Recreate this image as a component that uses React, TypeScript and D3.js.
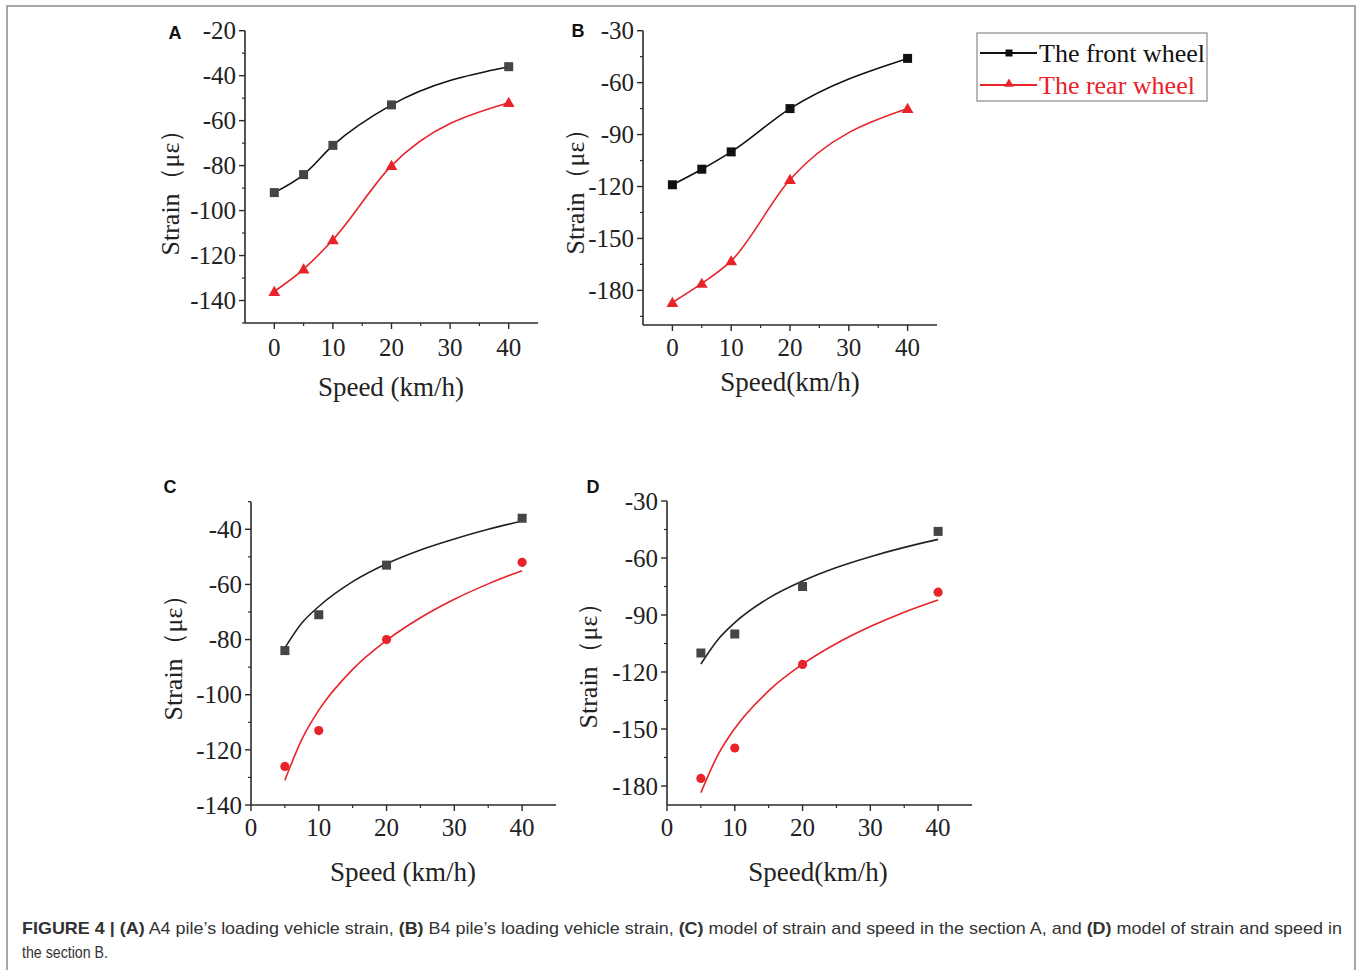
import * as d3 from "d3";

// ---- data ----
const speedAB = [0, 5, 10, 20, 40];
const frontA = [-92, -84, -71, -53, -36];
const rearA = [-136, -126, -113, -80, -52];
const frontB = [-119, -110, -100, -75, -46];
const rearB = [-187, -176, -163, -116, -75];

const speedCD = [5, 10, 20, 40];
const frontC = [-84, -71, -53, -36];
const rearC = [-126, -113, -80, -52];
const frontD = [-110, -100, -75, -46];
const rearD = [-176, -160, -116, -78];

// fitted curves
const fitX = [5, 7.5, 10, 15, 20, 25, 30, 35, 40];
const fitFrontC = [-83, -74, -68, -59, -52.5, -47.5, -43.5, -40, -37];
const fitRearC = [-131, -116.2, -105.6, -90.8, -80.3, -72.1, -65.4, -59.8, -55];
const fitFrontD = [-115.8, -103, -94, -81.1, -72.1, -65, -59.3, -54.4, -50.2];
const fitRearD = [-183.5, -163.7, -149.7, -129.9, -115.9, -105, -96.1, -88.5, -82.1];

const xTicks = [0, 10, 20, 30, 40];
const xMinor = [5, 15, 25, 35];
const yTicksA = [-140, -120, -100, -80, -60, -40, -20];
const yMinorA = [-150, -130, -110, -90, -70, -50, -30];
const yTicksB = [-180, -150, -120, -90, -60, -30];
const yMinorB = [-195, -165, -135, -105, -75, -45];
const yTicksC = [-140, -120, -100, -80, -60, -40];
const yMinorC = [-130, -110, -90, -70, -50, -30];
const yTicksD = [-180, -150, -120, -90, -60, -30];
const yMinorD = [-165, -135, -105, -75, -45];

const legendLabels = ["The front wheel", "The rear wheel"];
const BLACK = "#111";
const RED = "#e8232a";
const SERIF = "'Liberation Serif', 'Times New Roman', serif";
const SANS = "'Liberation Sans', Arial, sans-serif";

type Pt = [number, number];
const zip = (xs: number[], ys: number[]): Pt[] => xs.map((x, i) => [x, ys[i]]);

function Panel(p: any) {
  const x = d3.scaleLinear().domain(p.xDomain).range(p.xRange);
  const y = d3.scaleLinear().domain(p.yDomain).range(p.yRange);
  const x0 = p.xRange[0];
  const y0 = p.yRange[0];
  const line = d3
    .line<Pt>()
    .x((d) => x(d[0]))
    .y((d) => y(d[1]))
    .curve(d3.curveMonotoneX);
  const tri = d3.symbol().type(d3.symbolTriangle).size(60)();
  const axisColor = "#2a2a2a";
  return (
    <g>
      {/* lines */}
      {p.lines.map((l: any, i: number) => (
        <path key={"l" + i} d={line(l.pts) || ""} fill="none" stroke={l.color} strokeWidth={1.6} />
      ))}
      {/* markers */}
      {p.marks.map((m: any, i: number) =>
        m.pts.map((d: Pt, j: number) => {
          const cx = x(d[0]);
          const cy = y(d[1]);
          if (m.shape === "square")
            return <rect key={i + "-" + j} x={cx - 4.5} y={cy - 4.5} width={9} height={9} fill={m.color} />;
          if (m.shape === "triangle")
            return <path key={i + "-" + j} d={tri || ""} transform={`translate(${cx},${cy + 1})`} fill={m.color} />;
          return <circle key={i + "-" + j} cx={cx} cy={cy} r={4.6} fill={m.color} />;
        })
      )}
      {/* axes */}
      <line x1={x0} x2={x0} y1={p.yRange[1]} y2={y0} stroke={axisColor} strokeWidth={1.6} />
      <line x1={x0} x2={p.xRange[1]} y1={y0} y2={y0} stroke={axisColor} strokeWidth={1.6} />
      {p.yTicks.map((t: number) => (
        <g key={"yt" + t}>
          <line x1={x0 - 6} x2={x0} y1={y(t)} y2={y(t)} stroke={axisColor} strokeWidth={1.4} />
          <text x={x0 - 9} y={y(t)} dy="0.35em" textAnchor="end" fontFamily={SERIF} fontSize={25} fill="#222">
            {t}
          </text>
        </g>
      ))}
      {p.yMinor.map((t: number) => (
        <line key={"ym" + t} x1={x0 - 3} x2={x0} y1={y(t)} y2={y(t)} stroke={axisColor} strokeWidth={1.2} />
      ))}
      {xTicks.map((t) => (
        <g key={"xt" + t}>
          <line x1={x(t)} x2={x(t)} y1={y0} y2={y0 + 6} stroke={axisColor} strokeWidth={1.4} />
          <text x={x(t)} y={y0 + p.xLabelOffset} textAnchor="middle" fontFamily={SERIF} fontSize={25} fill="#222">
            {t}
          </text>
        </g>
      ))}
      {xMinor.map((t) => (
        <line key={"xm" + t} x1={x(t)} x2={x(t)} y1={y0} y2={y0 + 3} stroke={axisColor} strokeWidth={1.2} />
      ))}
      {/* titles */}
      <text x={p.xTitle[0]} y={p.xTitle[1]} textAnchor="middle" fontFamily={SERIF} fontSize={27} fill="#222">
        {p.xTitleText}
      </text>
      <text
        transform={`translate(${p.yTitle[0]},${p.yTitle[1]}) rotate(-90)`}
        dy="0.35em"
        textAnchor="middle"
        fontFamily={SERIF}
        fontSize={26}
        fill="#222"
      >
        Strain（με）
      </text>
      <text x={p.label[0]} y={p.label[1]} dy="0.35em" textAnchor="middle" fontFamily={SANS} fontWeight="bold" fontSize={18} fill="#111">
        {p.labelText}
      </text>
    </g>
  );
}

export default function App() {
  const tri = d3.symbol().type(d3.symbolTriangle).size(40)();
  return (
    <svg
      width={1360}
      height={970}
      style={{ position: "absolute", left: 0, top: 0, background: "#fff" }}
    >
      <rect x={7} y={6} width={1348} height={980} fill="none" stroke="#8a8a8a" strokeWidth={1.5} />

      <Panel
        labelText="A"
        label={[175, 33]}
        xDomain={[-5, 45]}
        xRange={[245, 538]}
        yDomain={[-150, -20]}
        yRange={[323, 30.7]}
        yTicks={yTicksA}
        yMinor={yMinorA}
        xLabelOffset={33}
        xTitle={[391, 396]}
        xTitleText="Speed (km/h)"
        yTitle={[170, 186]}
        lines={[
          { pts: zip(speedAB, frontA), color: BLACK },
          { pts: zip(speedAB, rearA), color: RED },
        ]}
        marks={[
          { pts: zip(speedAB, frontA), color: "#454545", shape: "square" },
          { pts: zip(speedAB, rearA), color: RED, shape: "triangle" },
        ]}
      />
      <Panel
        labelText="B"
        label={[578, 31]}
        xDomain={[-5, 45]}
        xRange={[643, 937]}
        yDomain={[-200, -30]}
        yRange={[325, 30.7]}
        yTicks={yTicksB}
        yMinor={yMinorB}
        xLabelOffset={31}
        xTitle={[790, 391]}
        xTitleText="Speed(km/h)"
        yTitle={[575, 185]}
        lines={[
          { pts: zip(speedAB, frontB), color: BLACK },
          { pts: zip(speedAB, rearB), color: RED },
        ]}
        marks={[
          { pts: zip(speedAB, frontB), color: "#111", shape: "square" },
          { pts: zip(speedAB, rearB), color: RED, shape: "triangle" },
        ]}
      />
      <Panel
        labelText="C"
        label={[170, 487]}
        xDomain={[0, 45]}
        xRange={[251, 556]}
        yDomain={[-140, -30]}
        yRange={[805, 501.7]}
        yTicks={yTicksC}
        yMinor={yMinorC}
        xLabelOffset={31}
        xTitle={[403, 881]}
        xTitleText="Speed (km/h)"
        yTitle={[173, 651]}
        lines={[
          { pts: zip(fitX, fitFrontC), color: "#222" },
          { pts: zip(fitX, fitRearC), color: RED },
        ]}
        marks={[
          { pts: zip(speedCD, frontC), color: "#454545", shape: "square" },
          { pts: zip(speedCD, rearC), color: RED, shape: "circle" },
        ]}
      />
      <Panel
        labelText="D"
        label={[593, 487]}
        xDomain={[0, 45]}
        xRange={[667, 972]}
        yDomain={[-190, -30]}
        yRange={[805, 501]}
        yTicks={yTicksD}
        yMinor={yMinorD}
        xLabelOffset={31}
        xTitle={[818, 881]}
        xTitleText="Speed(km/h)"
        yTitle={[588, 659]}
        lines={[
          { pts: zip(fitX, fitFrontD), color: "#222" },
          { pts: zip(fitX, fitRearD), color: RED },
        ]}
        marks={[
          { pts: zip(speedCD, frontD), color: "#454545", shape: "square" },
          { pts: zip(speedCD, rearD), color: RED, shape: "circle" },
        ]}
      />

      {/* legend */}
      <rect x={977} y={33} width={230} height={68} fill="#fff" stroke="#8a8a8a" strokeWidth={1.2} />
      {legendLabels.map((t, i) => {
        const ly = 53 + i * 32;
        const c = i === 0 ? BLACK : RED;
        return (
          <g key={t}>
            <line x1={980} x2={1037} y1={ly} y2={ly} stroke={c} strokeWidth={1.8} />
            {i === 0 ? (
              <rect x={1005.5} y={ly - 3.5} width={7} height={7} fill={c} />
            ) : (
              <path d={tri || ""} transform={`translate(1009,${ly - 1})`} fill={c} />
            )}
            <text x={1039} y={ly + 9} fontFamily={SERIF} fontSize={26} fill={c}>
              {t}
            </text>
          </g>
        );
      })}

      {/* caption */}
      <text x={22} y={934} fontFamily={SANS} fontSize={17} fill="#333" textLength={1320} lengthAdjust="spacingAndGlyphs">
        <tspan fontWeight="bold">FIGURE 4 | (A)</tspan> A4 pile’s loading vehicle strain, <tspan fontWeight="bold">(B)</tspan> B4
        pile’s loading vehicle strain, <tspan fontWeight="bold">(C)</tspan> model of strain and speed in the section A, and{" "}
        <tspan fontWeight="bold">(D)</tspan> model of strain and speed in
      </text>
      <text x={22} y={958} fontFamily={SANS} fontSize={17} fill="#333" textLength={86} lengthAdjust="spacingAndGlyphs">
        the section B.
      </text>
    </svg>
  );
}
